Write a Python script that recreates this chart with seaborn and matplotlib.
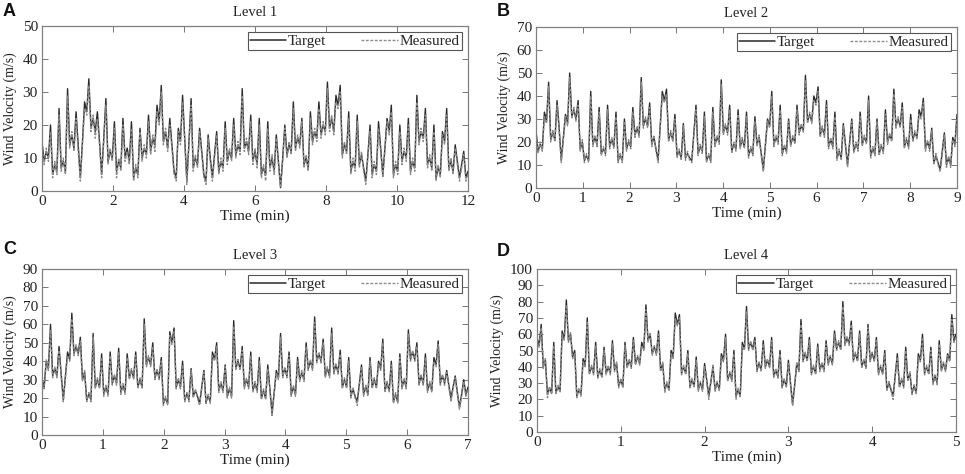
import numpy as np
import pandas as pd
import matplotlib
matplotlib.use("Agg")
import matplotlib.pyplot as plt
from matplotlib.lines import Line2D
import seaborn as sns

# ---------------- data ----------------
titles = ["Level 1", "Level 2", "Level 3", "Level 4"]
letters = ["A", "B", "C", "D"]
durations = [12, 9, 7, 5]            # minutes
y_max = [50, 70, 90, 100]
x_tick_step = [2, 1, 1, 1]

target_1 = [15, 9, 12, 10, 20, 5, 8, 6, 25, 7, 9, 6, 31, 14, 17, 13, 24, 14, 4, 15,
            27, 24, 34, 19, 22, 18, 24, 15, 5, 16, 28, 9, 12, 10, 21, 6, 9, 7, 22, 10,
            13, 9, 21, 4, 7, 5, 19, 10, 13, 11, 23, 12, 16, 14, 26, 21, 32, 15, 18, 13,
            22, 14, 6, 4, 19, 15, 29, 16, 3, 15, 28, 7, 10, 8, 19, 12, 5, 3, 17, 10,
            4, 11, 18, 6, 9, 7, 21, 9, 12, 10, 22, 11, 14, 12, 31, 13, 15, 12, 23, 9,
            12, 8, 22, 5, 7, 5, 21, 7, 10, 6, 17, 9, 1, 10, 20, 11, 14, 12, 27, 13,
            16, 14, 22, 8, 10, 7, 24, 15, 18, 16, 27, 17, 20, 18, 33, 19, 22, 18, 29, 26,
            32, 11, 14, 12, 24, 6, 9, 7, 23, 8, 11, 7, 3, 11, 20, 5, 8, 6, 21, 13,
            5, 13, 22, 18, 26, 5, 8, 6, 20, 9, 12, 10, 22, 6, 9, 7, 29, 15, 18, 16,
            25, 8, 10, 7, 20, 4, 7, 5, 18, 15, 25, 7, 9, 6, 14, 9, 4, 8, 12, 4, 6]
measured_1 = [14, 8, 13, 9, 18, 4, 9, 5, 23, 6, 10, 5, 29, 13, 18, 12, 22, 12, 3, 14,
              25, 23, 32, 18, 23, 16, 22, 14, 4, 15, 26, 8, 13, 9, 19, 4, 10, 6, 20, 9,
              12, 8, 19, 3, 8, 4, 18, 9, 14, 10, 21, 11, 17, 12, 24, 20, 30, 14, 19, 12,
              20, 13, 5, 3, 18, 14, 27, 15, 2, 14, 26, 6, 11, 7, 18, 11, 4, 2, 16, 9,
              3, 10, 17, 5, 10, 6, 19, 8, 13, 9, 20, 10, 15, 11, 29, 12, 16, 11, 21, 8,
              13, 7, 20, 4, 8, 3, 19, 6, 11, 5, 16, 8, 1, 9, 19, 10, 15, 11, 25, 12,
              17, 13, 21, 7, 11, 6, 22, 14, 19, 15, 25, 16, 21, 17, 31, 18, 23, 17, 27, 25,
              30, 10, 15, 11, 22, 5, 10, 6, 21, 7, 12, 6, 2, 10, 18, 4, 9, 5, 19, 12,
              4, 12, 21, 17, 24, 4, 9, 5, 18, 8, 13, 9, 20, 5, 10, 6, 27, 14, 19, 15,
              23, 7, 11, 6, 18, 3, 8, 4, 17, 14, 23, 6, 10, 5, 13, 8, 3, 7, 11, 3, 5]

target_2 = [25, 16, 19, 17, 33, 29, 46, 21, 24, 21, 38, 26, 12, 22, 32, 28, 50, 31, 34, 30,
            38, 17, 20, 12, 14, 12, 42, 19, 22, 19, 35, 15, 17, 15, 36, 18, 21, 18, 33, 12,
            14, 12, 30, 17, 20, 18, 35, 23, 26, 23, 48, 27, 30, 27, 37, 19, 22, 17, 12, 27,
            42, 38, 43, 21, 24, 21, 32, 14, 16, 13, 28, 13, 15, 13, 12, 24, 36, 15, 18, 16,
            33, 12, 14, 12, 35, 19, 22, 20, 47, 24, 27, 24, 36, 16, 19, 17, 34, 18, 21, 18,
            33, 14, 17, 15, 31, 19, 22, 15, 8, 19, 30, 27, 42, 19, 22, 20, 36, 15, 18, 16,
            30, 19, 22, 20, 36, 24, 27, 25, 49, 29, 32, 29, 40, 37, 44, 23, 26, 23, 38, 18,
            21, 18, 33, 13, 16, 13, 28, 19, 10, 20, 30, 16, 19, 17, 33, 19, 22, 20, 40, 14,
            17, 15, 30, 15, 18, 16, 34, 20, 23, 21, 43, 27, 30, 27, 37, 18, 21, 18, 32, 21,
            24, 22, 34, 31, 39, 17, 20, 17, 26, 11, 14, 11, 8, 16, 24, 10, 13, 10, 22, 19, 32]
measured_2 = [24, 15, 20, 16, 31, 28, 44, 20, 25, 20, 36, 25, 11, 21, 31, 27, 48, 30, 35, 29,
              36, 16, 21, 11, 15, 11, 40, 18, 23, 18, 33, 14, 18, 14, 34, 17, 22, 17, 31, 11,
              15, 11, 29, 16, 21, 17, 33, 22, 27, 22, 46, 26, 31, 26, 35, 18, 23, 16, 11, 26,
              40, 37, 41, 20, 25, 20, 30, 13, 17, 12, 27, 12, 16, 12, 11, 23, 34, 14, 19, 15,
              31, 11, 15, 11, 33, 18, 23, 19, 45, 23, 28, 23, 34, 15, 20, 16, 32, 17, 22, 17,
              31, 13, 18, 14, 29, 18, 23, 14, 7, 18, 29, 26, 40, 18, 23, 19, 34, 14, 19, 15,
              29, 18, 23, 19, 34, 23, 28, 24, 47, 28, 33, 28, 38, 36, 42, 22, 27, 22, 36, 17,
              22, 17, 31, 12, 17, 12, 27, 18, 9, 19, 29, 15, 20, 16, 31, 18, 23, 19, 38, 13,
              18, 14, 29, 14, 19, 15, 32, 19, 24, 20, 41, 26, 31, 26, 35, 17, 22, 17, 30, 20,
              25, 21, 32, 30, 37, 16, 21, 16, 25, 10, 15, 10, 7, 15, 23, 9, 14, 9, 21, 18, 30]

target_3 = [30, 26, 40, 36, 60, 32, 36, 32, 48, 33, 19, 32, 45, 41, 66, 44, 48, 44, 53, 30,
            34, 19, 22, 19, 55, 26, 30, 26, 44, 22, 26, 22, 45, 28, 32, 28, 47, 23, 27, 23,
            44, 31, 35, 31, 45, 26, 30, 26, 63, 38, 42, 38, 50, 31, 35, 31, 42, 17, 20, 17,
            56, 50, 58, 26, 30, 26, 40, 19, 22, 19, 36, 21, 24, 21, 17, 26, 35, 18, 21, 18,
            45, 41, 50, 24, 28, 24, 38, 21, 25, 21, 62, 36, 40, 36, 48, 26, 30, 26, 45, 24,
            28, 24, 42, 20, 24, 20, 38, 25, 12, 23, 35, 31, 55, 32, 36, 32, 45, 22, 26, 22,
            42, 30, 34, 30, 50, 36, 40, 36, 64, 40, 44, 40, 52, 32, 36, 32, 58, 34, 38, 34,
            46, 26, 30, 26, 42, 21, 25, 21, 18, 28, 38, 22, 26, 22, 42, 26, 30, 26, 40, 36,
            52, 24, 28, 24, 40, 18, 22, 18, 44, 26, 30, 26, 57, 41, 45, 41, 50, 28, 32, 28,
            44, 24, 28, 24, 42, 38, 51, 28, 32, 28, 35, 27, 20, 26, 32, 23, 15, 22, 30, 22, 26]
measured_3 = [28, 25, 41, 35, 57, 31, 37, 31, 46, 32, 18, 31, 43, 40, 63, 43, 49, 43, 51, 29,
              35, 18, 23, 18, 53, 25, 31, 25, 42, 21, 27, 21, 43, 27, 33, 27, 45, 22, 28, 22,
              42, 30, 36, 30, 43, 25, 31, 25, 60, 37, 43, 37, 48, 30, 36, 30, 40, 16, 21, 16,
              54, 49, 56, 25, 31, 25, 38, 18, 23, 18, 35, 20, 25, 20, 16, 25, 34, 17, 22, 17,
              43, 40, 48, 23, 29, 23, 37, 20, 26, 20, 59, 35, 41, 35, 46, 25, 31, 25, 43, 23,
              29, 23, 40, 19, 25, 19, 36, 24, 10, 22, 34, 30, 53, 31, 37, 31, 43, 21, 27, 21,
              40, 29, 35, 29, 48, 35, 41, 35, 61, 39, 45, 39, 50, 31, 37, 31, 55, 33, 39, 33,
              44, 25, 31, 25, 40, 20, 26, 20, 16, 27, 37, 21, 27, 21, 40, 25, 31, 25, 39, 35,
              50, 23, 29, 23, 38, 17, 23, 17, 42, 25, 31, 25, 55, 40, 46, 40, 48, 27, 33, 27,
              42, 23, 29, 23, 40, 37, 49, 27, 33, 27, 34, 26, 18, 25, 31, 22, 14, 21, 29, 21, 25]

target_4 = [58, 53, 66, 40, 44, 23, 27, 24, 55, 24, 28, 25, 62, 57, 81, 56, 60, 46, 50, 22,
            26, 23, 45, 41, 70, 36, 40, 36, 55, 34, 38, 34, 52, 36, 40, 36, 56, 38, 42, 28,
            32, 28, 55, 40, 44, 40, 58, 42, 46, 42, 55, 51, 78, 56, 60, 48, 52, 48, 62, 38,
            42, 26, 30, 26, 50, 46, 73, 66, 72, 36, 40, 36, 50, 28, 32, 28, 46, 26, 30, 26,
            42, 32, 22, 31, 40, 26, 30, 26, 48, 44, 60, 32, 36, 32, 50, 22, 26, 22, 55, 51,
            77, 51, 55, 51, 58, 38, 42, 38, 56, 40, 44, 40, 58, 34, 38, 34, 50, 28, 32, 28,
            44, 30, 17, 29, 42, 38, 69, 44, 48, 44, 58, 36, 40, 36, 54, 38, 42, 38, 56, 42,
            46, 42, 62, 51, 55, 51, 80, 54, 58, 54, 68, 44, 48, 44, 62, 40, 44, 40, 66, 44,
            48, 44, 58, 36, 40, 36, 50, 26, 30, 26, 22, 35, 48, 28, 32, 28, 52, 32, 36, 24,
            28, 24, 48, 44, 60, 36, 40, 36, 52, 30, 34, 30, 56, 38, 42, 38, 48, 44, 72, 56, 60]
measured_4 = [56, 52, 64, 39, 45, 21, 28, 23, 53, 23, 29, 24, 60, 56, 78, 55, 61, 45, 48, 21,
              27, 22, 43, 40, 68, 35, 41, 35, 53, 33, 39, 33, 50, 35, 41, 35, 54, 37, 43, 27,
              33, 27, 53, 39, 45, 39, 56, 41, 47, 41, 53, 50, 75, 55, 61, 47, 53, 47, 60, 37,
              43, 24, 31, 25, 48, 45, 70, 65, 70, 35, 41, 35, 48, 27, 33, 27, 44, 25, 31, 25,
              40, 31, 20, 30, 41, 25, 31, 25, 46, 43, 58, 31, 37, 31, 48, 20, 27, 21, 53, 50,
              74, 50, 56, 50, 56, 37, 43, 37, 54, 39, 45, 39, 56, 33, 39, 33, 48, 27, 33, 27,
              42, 29, 16, 28, 43, 37, 66, 43, 49, 43, 56, 35, 41, 35, 52, 37, 43, 37, 54, 41,
              47, 41, 60, 50, 56, 50, 77, 53, 59, 53, 66, 43, 49, 43, 60, 39, 45, 39, 64, 43,
              49, 43, 56, 35, 41, 35, 48, 25, 31, 25, 20, 34, 46, 27, 33, 27, 50, 31, 37, 23,
              29, 23, 46, 43, 58, 35, 41, 35, 50, 29, 35, 29, 54, 37, 43, 37, 47, 43, 69, 55, 58]

targets = [target_1, target_2, target_3, target_4]
measureds = [measured_1, measured_2, measured_3, measured_4]

# ---------------- style ----------------
sns.set_theme(style="ticks")
plt.rcParams["font.family"] = ["Liberation Serif", "DejaVu Serif"]
plt.rcParams.update({
    "xtick.direction": "in", "ytick.direction": "in",
    "xtick.top": True, "ytick.right": True,
    "xtick.major.size": 4, "ytick.major.size": 4,
    "xtick.major.width": 0.7, "ytick.major.width": 0.7,
    "xtick.color": "#777777", "ytick.color": "#777777",
    "xtick.labelcolor": "#222222", "ytick.labelcolor": "#222222",
    "axes.edgecolor": "#808080", "axes.linewidth": 0.9,
    "xtick.labelsize": 11, "ytick.labelsize": 11,
    "xtick.major.pad": 3, "ytick.major.pad": 3,
})

DARK = "#2a2a2a"
LIGHT = "#8a8a8a"
MEAS_LS = (0, (2.0, 1.2))

W, H = 965, 474
fig = plt.figure(figsize=(W / 100, H / 100), dpi=100)

# axes boxes in pixels: left, top, right, bottom
boxes = [(42, 26, 468, 191), (536, 27, 957, 188), (42, 269, 468, 435), (537, 269, 956, 432)]
letter_pos = [(3, 11), (497, 11), (3, 249), (497, 251)]

for k in range(4):
    l, t, r, b = boxes[k]
    ax = fig.add_axes([l / W, 1 - b / H, (r - l) / W, (b - t) / H])
    T = durations[k]
    tv = targets[k]
    mv = measureds[k]
    df_t = pd.DataFrame({"time": np.linspace(0, T, len(tv)), "vel": tv})
    df_m = pd.DataFrame({"time": np.linspace(0, T, len(mv)), "vel": mv})
    sns.lineplot(data=df_t, x="time", y="vel", ax=ax, color=DARK, linewidth=1.0,
                 estimator=None, sort=False)
    sns.lineplot(data=df_m, x="time", y="vel", ax=ax, color=LIGHT, linewidth=1.0,
                 linestyle=MEAS_LS, estimator=None, sort=False)
    ax.set_xlim(0, T)
    ax.set_ylim(0, y_max[k])
    ax.set_xticks(np.arange(0, T + 0.01, x_tick_step[k]))
    ax.set_yticks(np.arange(0, y_max[k] + 1, 10))
    ax.set_xlabel("Time (min)", fontsize=11, labelpad=1, color="#222222")
    ax.set_ylabel("Wind Velocity (m/s)", fontsize=10, labelpad=4, color="#222222")
    ax.set_title(titles[k], fontsize=10.5, pad=7, color="#222222")
    for s in ax.spines.values():
        s.set_visible(True)
    handles = [Line2D([], [], color=DARK, linewidth=1.1),
               Line2D([], [], color=LIGHT, linewidth=1.0, linestyle=MEAS_LS)]
    leg = ax.legend(handles, ["Target", "Measured"], ncol=2, loc="upper right",
                    fontsize=11, frameon=True, fancybox=False, framealpha=1,
                    edgecolor="#555555", handlelength=2.4, handletextpad=0.1,
                    columnspacing=2.3, borderpad=0.15, borderaxespad=0.4)
    leg.get_frame().set_linewidth(0.8)
    fig.text(letter_pos[k][0] / W, 1 - letter_pos[k][1] / H, letters[k],
             family=["Liberation Sans", "DejaVu Sans"], fontweight="bold",
             fontsize=13, va="center", ha="left", color="#111111")

fig.savefig("out.png", dpi=100)
